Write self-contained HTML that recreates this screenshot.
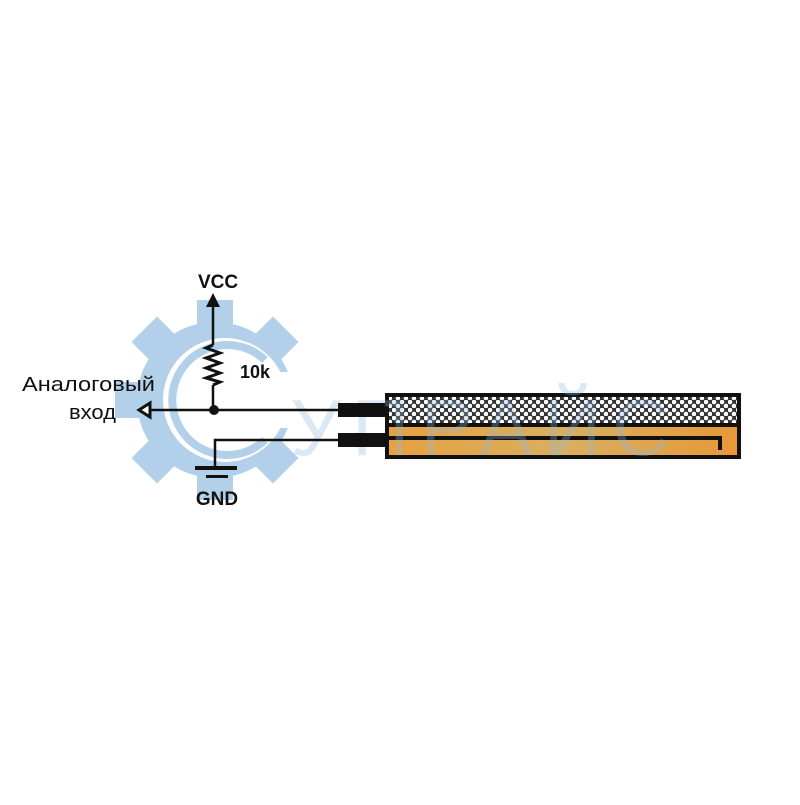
<!DOCTYPE html>
<html><head><style>body{margin:0;background:#fff}</style></head><body>
<svg width="800" height="800" viewBox="0 0 800 800" xmlns="http://www.w3.org/2000/svg">
<defs>
<pattern id="dots" width="8" height="8" patternUnits="userSpaceOnUse">
<rect width="8" height="8" fill="#333"/>
<circle cx="2" cy="2" r="2.3" fill="#fff"/><circle cx="6" cy="6" r="2.3" fill="#fff"/>
</pattern>
<linearGradient id="og" x1="0" x2="1"><stop offset="0" stop-color="#e8a040"/><stop offset="0.5" stop-color="#d8b060"/><stop offset="1" stop-color="#e89838"/></linearGradient>
</defs>
<g fill="#b3d0ea">
<circle cx="215" cy="400" r="78"/>
<rect x="197" y="300" width="36" height="30"/>
<rect x="197" y="470" width="36" height="30"/>
<rect x="115" y="382" width="30" height="36"/>
<rect x="197" y="300" width="36" height="30" transform="rotate(45 215 400)"/>
<rect x="197" y="300" width="36" height="30" transform="rotate(-45 215 400)"/>
<rect x="197" y="300" width="36" height="30" transform="rotate(135 215 400)"/>
<rect x="197" y="300" width="36" height="30" transform="rotate(-135 215 400)"/>
</g>
<circle cx="225" cy="400" r="62" fill="#fff"/>
<path d="M265,360 A55,55 0 1 0 265,440" fill="none" stroke="#b3d0ea" stroke-width="8"/>
<rect x="272" y="372" width="40" height="56" fill="#fff"/>
<rect x="385" y="393" width="356" height="66" fill="#111"/>
<rect x="389" y="397" width="348" height="26" fill="url(#dots)"/>
<rect x="389" y="427" width="348" height="28" fill="url(#og)"/>
<polyline points="389,438 720,438 720,450" fill="none" stroke="#111" stroke-width="4"/>
<text x="290" y="455" font-family="Liberation Sans, sans-serif" font-size="80" fill="#8fb8e0" opacity="0.3" textLength="380">УПРАЙС</text>
<g stroke="#111" stroke-width="2.5" fill="none">
<line x1="150" y1="410" x2="385" y2="410"/>
<polyline points="215,468 215,440 385,440"/>
<line x1="213" y1="410" x2="213" y2="385"/>
<line x1="213" y1="345" x2="213" y2="300"/>
<polyline points="213,345 206,348 220,353 206,358 220,363 206,368 220,373 206,378 220,382 213,385" stroke-width="3"/>
<polygon points="150,403 150,417 139,410" stroke-width="3" fill="#fff"/>
</g>
<rect x="338" y="403" width="47" height="14" fill="#111"/>
<rect x="338" y="433" width="47" height="14" fill="#111"/>
<circle cx="214" cy="410" r="5" fill="#111"/>
<polygon points="206,307 220,307 213,293" fill="#111"/>
<rect x="195" y="466" width="42" height="4" fill="#111"/>
<rect x="206" y="475" width="22" height="3" fill="#111"/>
<g font-family="Liberation Sans, sans-serif" fill="#111">
<text x="218" y="288" font-size="19" font-weight="bold" text-anchor="middle">VCC</text>
<text x="240" y="378" font-size="18" font-weight="bold">10k</text>
<text x="217" y="505" font-size="19" font-weight="bold" text-anchor="middle">GND</text>
<text x="22" y="391" font-size="20" textLength="133" lengthAdjust="spacingAndGlyphs">Аналоговый</text>
<text x="69" y="419" font-size="20" textLength="47" lengthAdjust="spacingAndGlyphs">вход</text>
</g>
</svg>
</body></html>
